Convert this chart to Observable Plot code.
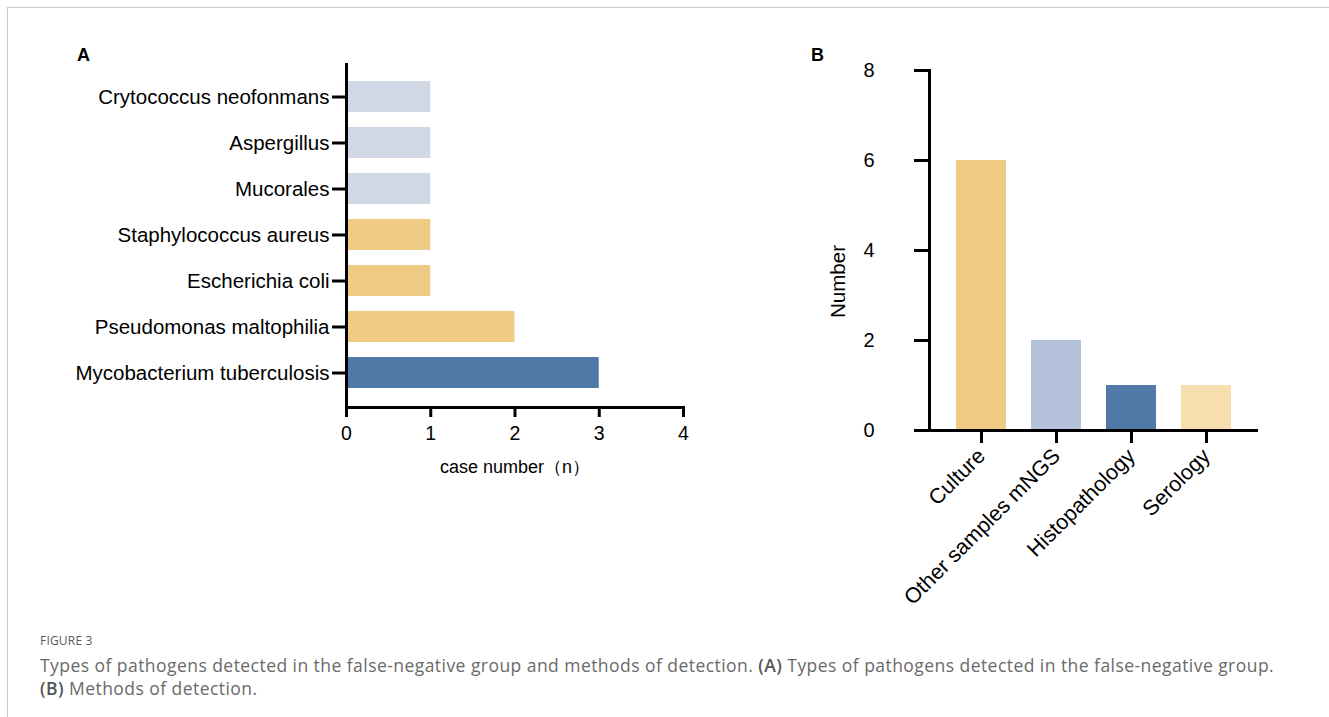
<!DOCTYPE html>
<html>
<head>
<meta charset="utf-8">
<script src="https://cdn.jsdelivr.net/npm/d3@7"></script>
<script src="https://cdn.jsdelivr.net/npm/@observablehq/plot@0.6"></script>
<style>
  html, body { margin: 0; padding: 0; background: #fff; }
  #root { position: relative; width: 1329px; height: 717px; overflow: hidden; }
  #border { position: absolute; left: 7px; top: 7px; width: 1400px; height: 800px;
            border-top: 1.5px solid #c9c9c9; border-left: 1.5px solid #c9c9c9; }
  .panel { position: absolute; top: 0; }
  .plabel { position: absolute; font-family: 'Liberation Sans', Arial, sans-serif; font-weight: bold;
            font-size: 18px; line-height: 18px; color: #000; }
  #caption { position: absolute; left: 40px; top: 632px; font-family: 'Open Sans', sans-serif; color: #6a6a6a; }
  #fig { font-size: 12px; line-height: 18px; color: #5a5a5a; letter-spacing: 0.2px; }
  #text { font-size: 17.5px; line-height: 23px; margin-top: 4px; white-space: nowrap; letter-spacing: 0.45px; }
  #text b { font-weight: 600; color: #555; }
</style>
</head>
<body>
<div id="root">
  <div id="border"></div>
  <div id="panelA" class="panel" style="left:0px"></div>
  <div id="panelB" class="panel" style="left:700px"></div>
  <div class="plabel" style="left:77px; top:45.5px">A</div>
  <div class="plabel" style="left:811px; top:45.5px">B</div>
  <div id="caption">
    <div id="fig">FIGURE 3</div>
    <div id="text">Types of pathogens detected in the false-negative group and methods of detection. <b>(A)</b> Types of pathogens detected in the false-negative group.<br><b>(B)</b> Methods of detection.</div>
  </div>
</div>
<script>
// ---- Panel A data ----
const pathogens = ["Crytococcus neofonmans", "Aspergillus", "Mucorales", "Staphylococcus aureus",
                   "Escherichia coli", "Pseudomonas maltophilia", "Mycobacterium tuberculosis"];
const pathogenCases = [1, 1, 1, 1, 1, 2, 3];
const pathogenColors = ["#d0d8e6", "#d0d8e6", "#d0d8e6", "#f0cb85", "#f0cb85", "#f0cb85", "#5079a8"];
const caseTicks = [0, 1, 2, 3, 4];
const caseLabel = "case number（n）";

// ---- Panel B data ----
const methods = ["Culture", "Other samples mNGS", "Histopathology", "Serology"];
const methodCounts = [6, 2, 1, 1];
const methodColors = ["#f0cb85", "#b3c1da", "#5079a8", "#f6deaf"];
const numberTicks = [0, 2, 4, 6, 8];
const numberLabel = "Number";

const font = "'Liberation Sans', Arial, sans-serif";

const dataA = pathogens.map((p, i) => ({pathogen: p, cases: pathogenCases[i]}));
const dataB = methods.map((m, i) => ({method: m, count: methodCounts[i]}));

const plotA = Plot.plot({
  width: 720, height: 500,
  marginLeft: 346, marginRight: 37, marginTop: 63, marginBottom: 93,
  style: {fontFamily: font, color: "#000", background: "transparent", overflow: "visible"},
  x: {domain: [0, 4]},
  y: {domain: pathogens, padding: 0.33, insetTop: 2, insetBottom: 3},
  color: {domain: pathogens, range: pathogenColors},
  marks: [
    Plot.barX(dataA, {x: "cases", y: "pathogen", fill: "pathogen"}),
    Plot.ruleX([0], {strokeWidth: 3}),
    Plot.frame({anchor: "bottom", strokeWidth: 3}),
    Plot.axisY({tickSize: 14, tickPadding: 3, fontSize: 20.5, strokeWidth: 3, label: null}),
    Plot.axisX({ticks: caseTicks, tickSize: 10, tickPadding: 9, fontSize: 19.5, strokeWidth: 3, label: null, tickFormat: d => String(d)}),
    Plot.text([caseLabel], {frameAnchor: "bottom", dy: 60, fontSize: 18, lineAnchor: "middle", text: d => d})
  ]
});
document.getElementById("panelA").appendChild(plotA);

const plotB = Plot.plot({
  width: 629, height: 620,
  marginLeft: 229, marginRight: 71, marginTop: 70, marginBottom: 190,
  style: {fontFamily: font, color: "#000", background: "transparent", overflow: "visible"},
  x: {domain: methods, padding: 0.33},
  y: {domain: [0, 8]},
  color: {domain: methods, range: methodColors},
  marks: [
    Plot.barY(dataB, {x: "method", y: "count", fill: "method"}),
    Plot.frame({anchor: "left", strokeWidth: 3}),
    Plot.ruleY([0], {strokeWidth: 3, insetLeft: -15}),
    Plot.axisY({ticks: numberTicks, tickSize: 15, tickPadding: 40, fontSize: 20, strokeWidth: 3, label: null, tickFormat: d => String(d)}),
    Plot.axisX({tickSize: 13, tickPadding: 9, tickRotate: -45, fontSize: 21.5, strokeWidth: 3, label: null}),
    Plot.text([numberLabel], {frameAnchor: "left", dx: -91, dy: 31, rotate: -90, textAnchor: "middle", lineAnchor: "middle", fontSize: 20.5, text: d => d})
  ]
});
document.getElementById("panelB").appendChild(plotB);
</script>
</body>
</html>
